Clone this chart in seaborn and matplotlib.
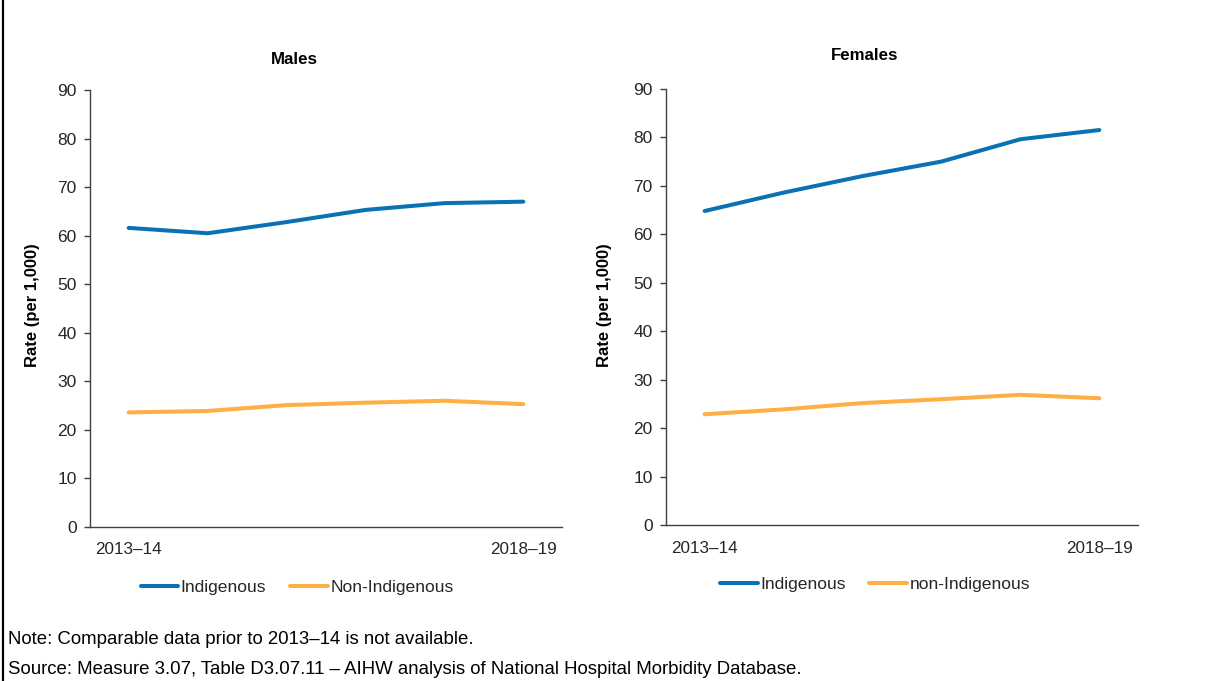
import matplotlib
matplotlib.use("Agg")
import matplotlib.pyplot as plt
from matplotlib.lines import Line2D
import seaborn as sns
import pandas as pd

# ---- data ----
years = ["2013–14", "2014–15", "2015–16", "2016–17", "2017–18", "2018–19"]
males_indigenous = [61.6, 60.5, 62.8, 65.3, 66.7, 67.0]
males_non_indigenous = [23.6, 23.9, 25.1, 25.6, 26.0, 25.3]
females_indigenous = [64.8, 68.6, 72.0, 75.0, 79.6, 81.5]
females_non_indigenous = [22.9, 23.9, 25.2, 26.0, 26.9, 26.2]

y_ticks = [0, 10, 20, 30, 40, 50, 60, 70, 80, 90]
x_tick_labels = ["2013–14", "2018–19"]

BLUE = "#0A72B4"
ORANGE = "#FDB043"
TEXT = "#262626"
SPINE = "#404040"

sns.set_theme(style="white")
plt.rcParams["font.family"] = ["Liberation Sans", "DejaVu Sans"]

W, H = 1219, 681
fig = plt.figure(figsize=(W / 100, H / 100), dpi=100)


def make_df(ind, non, non_label):
    rows = []
    for i, y in enumerate(years):
        rows.append({"idx": i, "year": y, "rate": ind[i], "group": "Indigenous"})
    for i, y in enumerate(years):
        rows.append({"idx": i, "year": y, "rate": non[i], "group": non_label})
    return pd.DataFrame(rows)


panels = [
    dict(left=90, right=562, top=90, bottom=527, title="Males", title_x=294, title_y=60,
         ylab_x=32, ind=males_indigenous, non=males_non_indigenous,
         non_label="Non-Indigenous", leg_x=297, leg_y=587),
    dict(left=666, right=1138, top=88.8, bottom=525.3, title="Females", title_x=865, title_y=55,
         ylab_x=604, ind=females_indigenous, non=females_non_indigenous,
         non_label="non-Indigenous", leg_x=875, leg_y=584),
]

for p in panels:
    ax = fig.add_axes([p["left"] / W, 1 - p["bottom"] / H,
                       (p["right"] - p["left"]) / W, (p["bottom"] - p["top"]) / H])
    df = make_df(p["ind"], p["non"], p["non_label"])
    sns.lineplot(data=df, x="idx", y="rate", hue="group",
                 palette={"Indigenous": BLUE, p["non_label"]: ORANGE},
                 linewidth=2.9, ax=ax, legend=True)
    ax.set_xlim(-0.49, 5.49)
    ax.set_ylim(0, 90)
    ax.set_yticks(y_ticks)
    ax.set_xticks([0, len(years) - 1])
    ax.set_xticklabels(x_tick_labels)
    ax.set_xlabel("")
    ax.set_ylabel("")
    for s in ["top", "right"]:
        ax.spines[s].set_visible(False)
    for s in ["left", "bottom"]:
        ax.spines[s].set_color(SPINE)
        ax.spines[s].set_linewidth(1.0)
    ax.tick_params(axis="y", which="major", length=4, width=1.0, color=SPINE,
                   direction="out", left=True, pad=5.5, labelsize=12.5, labelcolor=TEXT)
    ax.tick_params(axis="x", length=0, pad=11, labelsize=12.3, labelcolor=TEXT)

    handles, labels = ax.get_legend_handles_labels()
    ax.get_legend().remove()
    fig.legend(handles, labels, loc="center", ncol=2, frameon=False,
               bbox_to_anchor=(p["leg_x"] / W, 1 - p["leg_y"] / H),
               fontsize=12.6, handlelength=2.15, handletextpad=0.15,
               columnspacing=1.35, labelcolor=TEXT)

    fig.text(p["title_x"] / W, 1 - p["title_y"] / H, p["title"], ha="center", va="center",
             fontsize=12.2, fontweight="bold", color="black")
    fig.text(p["ylab_x"] / W, 1 - 305 / H, "Rate (per 1,000)", ha="center", va="center",
             rotation=90, fontsize=12, fontweight="bold", color="black")

fig.text(8 / W, 1 - 640 / H, "Note: Comparable data prior to 2013–14 is not available.",
         ha="left", va="center", fontsize=13.4, color="black")
fig.text(8 / W, 1 - 670 / H,
         "Source: Measure 3.07, Table D3.07.11 – AIHW analysis of National Hospital Morbidity Database.",
         ha="left", va="center", fontsize=13.4, color="black")

# left border of the enclosing box
fig.add_artist(Line2D([3 / W, 3 / W], [0, 1], color="black", linewidth=1.6))

fig.savefig("out.png", dpi=100, facecolor="white")
